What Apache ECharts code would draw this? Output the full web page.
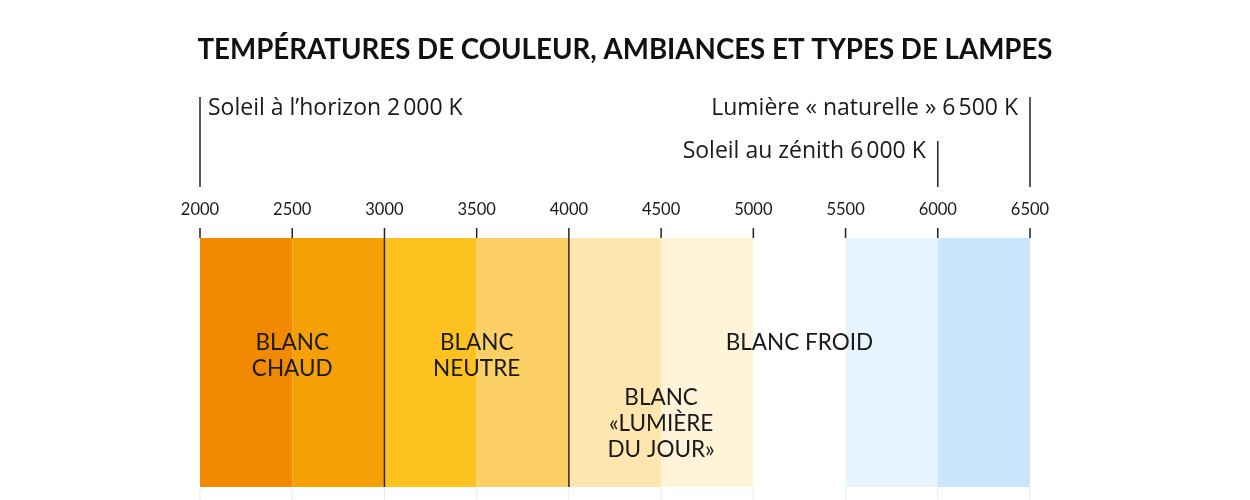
<!DOCTYPE html>
<html>
<head>
<meta charset="utf-8">
<script src="https://cdn.jsdelivr.net/npm/echarts@6/dist/echarts.min.js"></script>
<style>html,body{margin:0;padding:0;background:#fff;}#c{width:1250px;height:500px;}</style>
</head>
<body>
<div id="c"></div>
<script>
// ---- data ----
var titleText = "TEMPÉRATURES DE COULEUR, AMBIANCES ET TYPES DE LAMPES";
var tickValues = [2000, 2500, 3000, 3500, 4000, 4500, 5000, 5500, 6000, 6500];
var tickLabels = ["2000", "2500", "3000", "3500", "4000", "4500", "5000", "5500", "6000", "6500"];
var bandStart = [2000, 2500, 3000, 3500, 4000, 4500, 5000, 5500, 6000];
var bandEnd   = [2500, 3000, 3500, 4000, 4500, 5000, 5500, 6000, 6500];
var bandColors = ["#F18A00", "#F5A004", "#FDC21F", "#FDD066", "#FEE6AE", "#FFF3D9", "#FFFFFF", "#E6F4FD", "#CBE5FA"];
var dividerValues = [3000, 4000];
var zoneNames = ["BLANC\nCHAUD", "BLANC\nNEUTRE", "BLANC\n«LUMIÈRE\nDU JOUR»", "BLANC FROID"];
var zoneCenters = [2500, 3500, 4500, 5250];
var zoneLevels = [0.63, 0.63, 0.41, 0.63];
var refValues = [2000, 6000, 6500];
var refTexts = ["Soleil à l’horizon 2\u202F000 K", "Soleil au zénith 6\u202F000 K", "Lumière « naturelle » 6\u202F500 K"];
var refRows = [0, 1, 0];

// ---- chart ----
var chart = echarts.init(document.getElementById('c'), null, {renderer: 'canvas'});
var GRID_TOP = 238, GRID_H = 249;
var labelFont = 'Lato, "Noto Sans", sans-serif';
var textFont = '"Open Sans", "Noto Sans", sans-serif';

var option = {
  backgroundColor: '#ffffff',
  animation: false,
  title: {
    text: titleText, left: 'center', top: 31,
    textStyle: {fontFamily: labelFont, fontWeight: 700, fontSize: 27.7, color: '#111'}
  },
  grid: {left: 200, right: 220, top: GRID_TOP, height: GRID_H},
  xAxis: {
    type: 'value', min: 2000, max: 6500, interval: 500, position: 'top',
    axisLine: {show: false}, splitLine: {show: false}, axisTick: {show: false},
    axisLabel: {
      margin: 20, fontSize: 16.5, color: '#1a1a1a', fontFamily: labelFont,
      formatter: function (v) { var i = tickValues.indexOf(v); return i >= 0 ? tickLabels[i] : ''; }
    }
  },
  yAxis: {type: 'value', min: 0, max: 1, show: false},
  series: [{
    type: 'custom', coordinateSystem: 'cartesian2d',
    data: bandStart.map(function (s, i) { return [s, bandEnd[i], i]; }),
    renderItem: function (params, api) {
      var p0 = api.coord([api.value(0), 1]);
      var p1 = api.coord([api.value(1), 0]);
      return {type: 'rect', shape: {x: p0[0], y: p0[1], width: p1[0] - p0[0], height: p1[1] - p0[1]},
        style: {fill: bandColors[api.value(2)]}};
    }
  }, {
    type: 'custom', coordinateSystem: 'cartesian2d', clip: false,
    data: tickValues.map(function (v) { return [v]; }),
    renderItem: function (params, api) {
      var a = api.coord([api.value(0), 1]);
      var b = api.coord([api.value(0), 0]);
      return {type: 'group', children: [
        {type: 'line', shape: {x1: a[0], y1: a[1] - 10, x2: a[0], y2: a[1]}, style: {stroke: '#222', lineWidth: 1.5}},
        {type: 'line', shape: {x1: b[0], y1: b[1] + 1, x2: b[0], y2: b[1] + 14}, style: {stroke: '#ececec', lineWidth: 1}}
      ]};
    }
  }, {
    type: 'custom', coordinateSystem: 'cartesian2d',
    data: dividerValues.map(function (v) { return [v]; }),
    renderItem: function (params, api) {
      var a = api.coord([api.value(0), 1]);
      var b = api.coord([api.value(0), 0]);
      return {type: 'line', shape: {x1: a[0], y1: a[1], x2: b[0], y2: b[1]},
        style: {stroke: '#2a2a2a', lineWidth: 1.5}};
    }
  }, {
    type: 'custom', coordinateSystem: 'cartesian2d',
    data: zoneCenters.map(function (c, i) { return [c, zoneLevels[i], i]; }),
    renderItem: function (params, api) {
      var p = api.coord([api.value(0), api.value(1)]);
      return {type: 'text', x: p[0], y: p[1],
        style: {text: zoneNames[api.value(2)], align: 'center', verticalAlign: 'top',
          fill: '#1a1a1a', font: '400 22.5px ' + labelFont, lineHeight: 26}};
    }
  }, {
    type: 'custom', coordinateSystem: 'cartesian2d', clip: false,
    data: refValues.map(function (v, i) { return [v, i]; }),
    renderItem: function (params, api) {
      var i = api.value(1);
      var x = api.coord([api.value(0), 1])[0];
      var row = refRows[i];
      var topY = row === 0 ? 97 : 141;
      var textY = row === 0 ? 108 : 151;
      var left = i === 0;
      return {type: 'group', children: [
        {type: 'line', shape: {x1: x, y1: topY, x2: x, y2: 187}, style: {stroke: '#222', lineWidth: 1.5}},
        {type: 'text', x: left ? x + 8 : x - 12, y: textY,
          style: {text: refTexts[i], align: left ? 'left' : 'right', verticalAlign: 'middle',
            fill: '#1a1a1a', font: '400 23px ' + textFont}}
      ]};
    }
  }]
};
chart.setOption(option);
</script>
</body>
</html>
